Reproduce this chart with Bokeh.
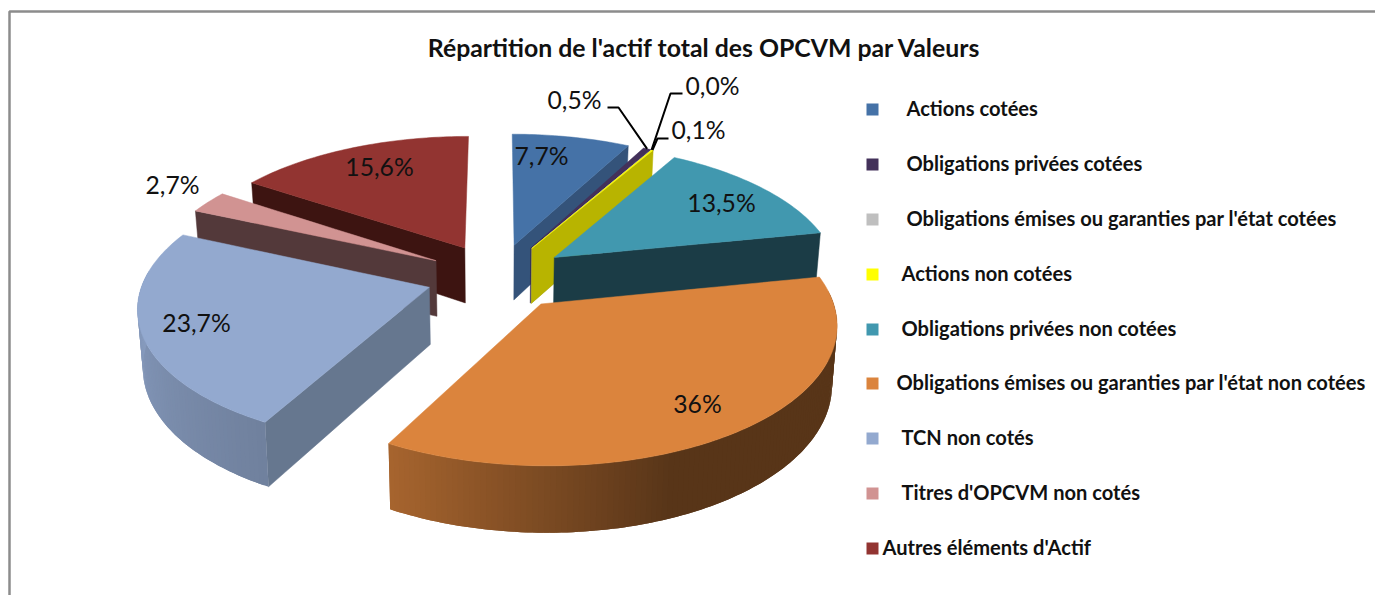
import numpy as np
from bokeh.plotting import figure
from bokeh.models import Range1d
from bokeh.core.properties import value
from bokeh.embed import file_html
from bokeh.resources import INLINE

# ---- data
categories = ["Actions cotées", "Obligations privées cotées",
              "Obligations émises ou garanties par l'état cotées", "Actions non cotées",
              "Obligations privées non cotées", "Obligations émises ou garanties par l'état non cotées",
              "TCN non cotés", "Titres d'OPCVM non cotés", "Autres éléments d'Actif"]
values = [7.7, 0.5, 0.0, 0.1, 13.5, 36.0, 23.7, 2.7, 15.6]
value_labels = ["7,7%", "0,5%", "0,0%", "0,1%", "13,5%", "36%", "23,7%", "2,7%", "15,6%"]
title = "Répartition de l'actif total des OPCVM par Valeurs"

# ---- styles
top_colors = ["#4572A7", "#43315A", "#BFBFBF", "#FFFF00", "#4198AF", "#DB843D", "#93A9CF", "#D19392", "#923431"]
face_colors = ["#34537A", "#33264A", "#8F8F8F", "#B8B400", "#1B3C46", "#8A5226", "#66778F", "#53393A", "#3D1411"]
draw_order = [8, 7, 6, 0, 1, 2, 3, 4, 5]
label_x = [541, 574, 712, 698, 721, 697, 196, 172, 379]
label_y = [155, 99, 85, 129, 202, 403, 322, 184, 166]
legend_text_x = [906, 906, 906, 901, 901, 896, 901, 901, 882]
legend_y = [109, 164, 219, 274, 329, 383, 438, 493, 548]
legend_text_y = [107, 162, 217, 272, 327, 381, 436, 491, 546]

# ---- pie geometry
CX, CY, R, KR, PERSP, EXPL, DEPTH, SHRINK = 497.0, 276.0, 285.0, 133.0, 0.13, 0.25, 56.5, 0.985


def project(X, Y, down=False):
    w = 1.0 / (1.0 + PERSP * Y)
    sx = CX + R * X * w
    sy = CY - KR * Y * w
    if down:
        sx = CX + (sx - CX) * SHRINK
        sy = sy + DEPTH * w
    return sx, sy


def shade(hex_color, f):
    rgb = [int(hex_color[i:i + 2], 16) for i in (1, 3, 5)]
    return "#%02x%02x%02x" % tuple(int(round(c * f)) for c in rgb)


p = figure(width=1375, height=595, output_backend="svg", toolbar_location=None,
           x_range=Range1d(0, 1375), y_range=Range1d(595, 0), min_border=0,
           outline_line_color=None, background_fill_color="white", border_fill_color="white")
p.xaxis.visible = False
p.yaxis.visible = False
p.xgrid.visible = False
p.ygrid.visible = False

# frame
p.line([9, 9, 1375], [595, 11, 11], line_color="#8C8C8C", line_width=2.5)

total = sum(values)
edges = np.concatenate([[0.0], np.cumsum(values)]) / total * 360.0

for i in draw_order:
    a0, a1 = edges[i], edges[i + 1]
    mid = np.radians((a0 + a1) / 2)
    ax, ay = EXPL * np.sin(mid), EXPL * np.cos(mid)
    angles = np.linspace(a0, a1, max(2, int((a1 - a0) / 1.0) + 2))
    rad = np.radians(angles)
    ox, oy = ax + np.sin(rad), ay + np.cos(rad)

    # cut faces that look towards the viewer
    for ang, visible in ((a0, np.sin(np.radians(a0)) < -1e-6), (a1, np.sin(np.radians(a1)) > 1e-6)):
        if not visible:
            continue
        ex, ey = ax + np.sin(np.radians(ang)), ay + np.cos(np.radians(ang))
        t = np.linspace(0, 1, 12)
        lx, ly = ax + (ex - ax) * t, ay + (ey - ay) * t
        tx, ty = project(lx, ly)
        bx, by = project(lx, ly, True)
        p.patch(np.r_[tx, bx[::-1]], np.r_[ty, by[::-1]], fill_color=face_colors[i],
                line_color=face_colors[i], line_width=0.5)

    # outer wall: overlapping quads, each painted over the previous one
    wx, wy, wc = [], [], []
    for k in range(len(angles) - 1):
        am = (angles[k] + angles[k + 1]) / 2
        if np.cos(np.radians(am)) > 0.1:
            continue
        f = float(np.interp(am, [0, 158, 208, 275, 360], [0.40, 0.40, 0.76, 0.93, 0.93]))
        tx, ty = project(ox[k:k + 3], oy[k:k + 3])
        bx, by = project(ox[k:k + 3], oy[k:k + 3], True)
        wx.append(np.r_[tx, bx[::-1]].tolist())
        wy.append(np.r_[ty, by[::-1]].tolist())
        wc.append(shade(top_colors[i], f))
    if wx:
        p.patches(wx, wy, fill_color=wc, line_color=None)

    # top surface
    t = np.linspace(0, 1, 12)
    sx0, sy0 = ax + (ox[0] - ax) * t, ay + (oy[0] - ay) * t
    sx1, sy1 = ox[-1] + (ax - ox[-1]) * t, oy[-1] + (ay - oy[-1]) * t
    tx, ty = project(np.r_[sx0, ox, sx1], np.r_[sy0, oy, sy1])
    p.patch(tx, ty, fill_color=top_colors[i], line_color=top_colors[i], line_width=0.5)

# leader lines of the small slices
leader_i = [1, 2, 3]
leader_start_x = [607, 682, 668]
leader_knee_x = [618, 670, 657]
leader_knee_y = [107, 93, 138]
for n, i in enumerate(leader_i):
    m = np.radians((edges[i] + edges[i + 1]) / 2)
    ox_, oy_ = project(EXPL * np.sin(m) + np.sin(m), EXPL * np.cos(m) + np.cos(m))
    p.line([leader_start_x[n], leader_knee_x[n], ox_], [leader_knee_y[n], leader_knee_y[n], oy_],
           line_color="black", line_width=2)

# title
p.text([704], [47], text=[title], text_font=value("Lato"), text_font_style="bold",
       text_font_size="24.8px", text_align="center", text_baseline="middle", text_color="#111111")

# value labels
p.text(label_x, label_y, text=value_labels, text_font=value("Lato"), text_font_size="24.7px",
       text_align="center", text_baseline="middle", text_color="#111111")

# legend
p.scatter([872] * len(categories), legend_y, marker="square", size=12, fill_color=top_colors, line_color=None)
p.text(legend_text_x, legend_text_y, text=categories, text_font=value("Lato"), text_font_style="bold",
       text_font_size="20.1px", text_align="left", text_baseline="middle", text_color="#111111")

open("out.html", "w").write(file_html(p, INLINE))
